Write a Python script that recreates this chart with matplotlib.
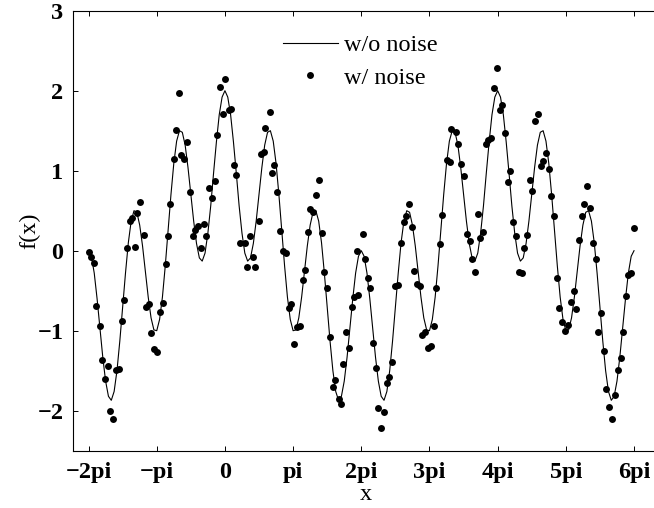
import numpy as np
import matplotlib
matplotlib.use("Agg")
import matplotlib.pyplot as plt

PI = np.pi

# noise-free curve, sampled every pi/24 from -2pi to 6pi
x_line = np.linspace(-2 * PI, 6 * PI, 193)
y_line = [
    0.00, -0.07, -0.28, -0.60, -0.97, -1.33, -1.63, -1.82, -1.87, -1.76, -1.50, -1.13,
    -0.71, -0.28, 0.10, 0.37, 0.50, 0.48, 0.32, 0.06, -0.26, -0.58, -0.84, -0.99,
    -1.00, -0.86, -0.58, -0.19, 0.26, 0.70, 1.09, 1.37, 1.50, 1.48, 1.32, 1.04,
    0.71, 0.37, 0.09, -0.09, -0.13, -0.03, 0.22, 0.56, 0.97, 1.36, 1.70, 1.92,
    2.00, 1.92, 1.70, 1.36, 0.97, 0.56, 0.22, -0.03, -0.13, -0.09, 0.09, 0.37,
    0.71, 1.04, 1.32, 1.48, 1.50, 1.37, 1.09, 0.70, 0.26, -0.19, -0.58, -0.86,
    -1.00, -0.99, -0.84, -0.58, -0.26, 0.06, 0.32, 0.48, 0.50, 0.37, 0.10, -0.28,
    -0.71, -1.13, -1.50, -1.76, -1.87, -1.82, -1.63, -1.33, -0.97, -0.60, -0.28, -0.07,
    0.00, -0.07, -0.28, -0.60, -0.97, -1.33, -1.63, -1.82, -1.87, -1.76, -1.50, -1.13,
    -0.71, -0.28, 0.10, 0.37, 0.50, 0.48, 0.32, 0.06, -0.26, -0.58, -0.84, -0.99,
    -1.00, -0.86, -0.58, -0.19, 0.26, 0.70, 1.09, 1.37, 1.50, 1.48, 1.32, 1.04,
    0.71, 0.37, 0.09, -0.09, -0.13, -0.03, 0.22, 0.56, 0.97, 1.36, 1.70, 1.92,
    2.00, 1.92, 1.70, 1.36, 0.97, 0.56, 0.22, -0.03, -0.13, -0.09, 0.09, 0.37,
    0.71, 1.04, 1.32, 1.48, 1.50, 1.37, 1.09, 0.70, 0.26, -0.19, -0.58, -0.86,
    -1.00, -0.99, -0.84, -0.58, -0.26, 0.06, 0.32, 0.48, 0.50, 0.37, 0.10, -0.28,
    -0.71, -1.13, -1.50, -1.76, -1.87, -1.82, -1.63, -1.33, -0.97, -0.60, -0.28, -0.07,
    0.00,
]

# noisy samples (x in units of pi)
x_dots_pi = [
    -2.000, -1.960, -1.916, -1.887, -1.839, -1.804, -1.765, -1.721, -1.682, -1.642,
    -1.598, -1.550, -1.510, -1.477, -1.437, -1.399, -1.364, -1.315, -1.290, -1.242,
    -1.194, -1.154, -1.110, -1.081, -1.037, -0.997, -0.959, -0.915, -0.865, -0.842,
    -0.812, -0.754, -0.714, -0.680, -0.641, -0.597, -0.557, -0.519, -0.469, -0.435,
    -0.396, -0.352, -0.314, -0.274, -0.240, -0.191, -0.152, -0.109, -0.069, -0.035,
    0.004, 0.053, 0.092, 0.126, 0.166, 0.224, 0.290, 0.331, 0.371, 0.405,
    0.444, 0.493, 0.532, 0.566, 0.591, 0.654, 0.689, 0.727, 0.771, 0.811,
    0.850, 0.894, 0.933, 0.972, 1.016, 1.056, 1.094, 1.138, 1.177, 1.217,
    1.251, 1.290, 1.339, 1.378, 1.422, 1.456, 1.496, 1.534, 1.578, 1.617,
    1.666, 1.701, 1.739, 1.779, 1.818, 1.862, 1.900, 1.935, 1.959, 2.018,
    2.057, 2.097, 2.131, 2.179, 2.218, 2.252, 2.292, 2.336, 2.375, 2.413,
    2.457, 2.497, 2.545, 2.585, 2.619, 2.658, 2.702, 2.742, 2.780, 2.815,
    2.864, 2.889, 2.937, 2.985, 3.025, 3.059, 3.098, 3.147, 3.182, 3.255,
    3.304, 3.318, 3.384, 3.425, 3.465, 3.509, 3.548, 3.587, 3.622, 3.670,
    3.710, 3.743, 3.783, 3.827, 3.865, 3.905, 3.949, 3.988, 4.037, 4.070,
    4.110, 4.150, 4.188, 4.232, 4.271, 4.320, 4.355, 4.389, 4.428, 4.477,
    4.510, 4.550, 4.589, 4.633, 4.672, 4.716, 4.755, 4.784, 4.833, 4.868,
    4.906, 4.950, 4.990, 5.038, 5.073, 5.117, 5.151, 5.199, 5.235, 5.273,
    5.317, 5.356, 5.396, 5.440, 5.478, 5.518, 5.557, 5.595, 5.635, 5.675,
    5.723, 5.762, 5.806, 5.836, 5.880, 5.918, 5.957, 6.001,
]
y_dots = [
    -0.01, -0.08, -0.15, -0.69, -0.94, -1.37, -1.60, -1.44, -2.00, -2.10,
    -1.49, -1.48, -0.88, -0.61, 0.04, 0.37, 0.41, 0.05, 0.47, 0.61,
    0.20, -0.70, -0.67, -1.03, -1.23, -1.26, -0.77, -0.65, -0.16, 0.18,
    0.58, 1.15, 1.51, 1.97, 1.20, 1.15, 1.36, 0.73, 0.18, 0.26,
    0.31, 0.03, 0.34, 0.19, 0.79, 0.66, 0.87, 1.45, 2.05, 1.71,
    2.14, 1.76, 1.77, 1.07, 0.95, 0.10, 0.10, -0.20, 0.18, -0.08,
    -0.20, 0.37, 1.21, 1.24, 1.53, 1.73, 0.97, 1.07, 0.73, 0.25,
    0.00, -0.03, -0.72, -0.66, -1.17, -0.95, -0.94, -0.37, -0.24, 0.23,
    0.52, 0.49, 0.70, 0.88, 0.22, -0.27, -0.47, -1.08, -1.70, -1.61,
    -1.85, -1.91, -1.41, -1.01, -1.21, -0.70, -0.58, 0.00, -0.55, 0.21,
    -0.10, -0.34, -0.46, -1.15, -1.46, -1.97, -2.21, -2.01, -1.65, -1.58,
    -1.39, -0.44, -0.43, 0.10, 0.36, 0.44, 0.58, 0.30, -0.25, -0.41,
    -0.44, -1.05, -1.02, -1.22, -1.19, -0.94, -0.46, 0.08, 0.45, 1.13,
    1.11, 1.52, 1.48, 1.33, 1.08, 0.93, 0.21, 0.12, -0.10, -0.26,
    0.46, 0.16, 0.23, 1.33, 1.38, 1.41, 2.03, 2.29, 1.76, 1.82,
    1.47, 0.86, 1.00, 0.36, 0.19, -0.26, -0.28, 0.04, 0.20, 0.89,
    0.75, 1.62, 1.71, 1.06, 1.12, 1.22, 1.02, 0.69, 0.44, -0.34,
    -0.71, -0.89, -1.00, -0.93, -0.64, -0.50, -0.73, 0.13, 0.43, 0.58,
    0.81, 0.53, 0.10, -0.10, -1.01, -0.78, -1.25, -1.73, -1.95, -2.10,
    -1.80, -1.49, -1.34, -1.02, -0.57, -0.30, -0.28, 0.29,
]

xtick_pi = [-2, -1, 0, 1, 2, 3, 4, 5, 6]
xtick_labels = ["\u22122pi", "\u2212pi", "0", "pi", "2pi", "3pi", "4pi", "5pi", "6pi"]
ytick_vals = [-2, -1, 0, 1, 2, 3]

plt.rcParams["font.family"] = ["Liberation Serif", "DejaVu Serif"]
FS = 17.5

fig = plt.figure(figsize=(6.54, 5.08), dpi=100)
ax = fig.add_axes([73 / 654, 57.3 / 508, 586 / 654, 440 / 508])

ax.plot(x_line, y_line, color="k", lw=0.8, label="w/o noise")
ax.plot(np.array(x_dots_pi) * PI, y_dots, "o", color="k", ms=5, mew=0,
        label="w/ noise")

ax.set_xlim(-7, 20)
ax.set_ylim(-2.5, 3)
ax.set_xticks(np.array(xtick_pi) * PI)
ax.set_xticklabels(xtick_labels)
ax.set_yticks(ytick_vals)
ax.set_yticklabels([f"{v}".replace("-", "\u2212") for v in ytick_vals])
ax.tick_params(direction="in", length=3.6, width=0.7, top=True, right=True,
               labelsize=FS)
ax.tick_params(axis="x", pad=8)
ax.tick_params(axis="y", pad=7)
for lbl in ax.get_xticklabels() + ax.get_yticklabels():
    lbl.set_fontweight("bold")
for sp in ax.spines.values():
    sp.set_linewidth(0.8)

ax.set_xlabel("x", fontsize=FS, labelpad=1)
ax.set_ylabel("f(x)", fontsize=FS, labelpad=-2)

ax.legend(frameon=False, loc="upper left", fontsize=FS,
          bbox_to_anchor=(283 / 654, 1 - 34 / 508), bbox_transform=fig.transFigure,
          borderpad=0, borderaxespad=0, handlelength=2.25, handletextpad=0.25,
          labelspacing=0.45, numpoints=1)

fig.savefig("out.png", dpi=100)
